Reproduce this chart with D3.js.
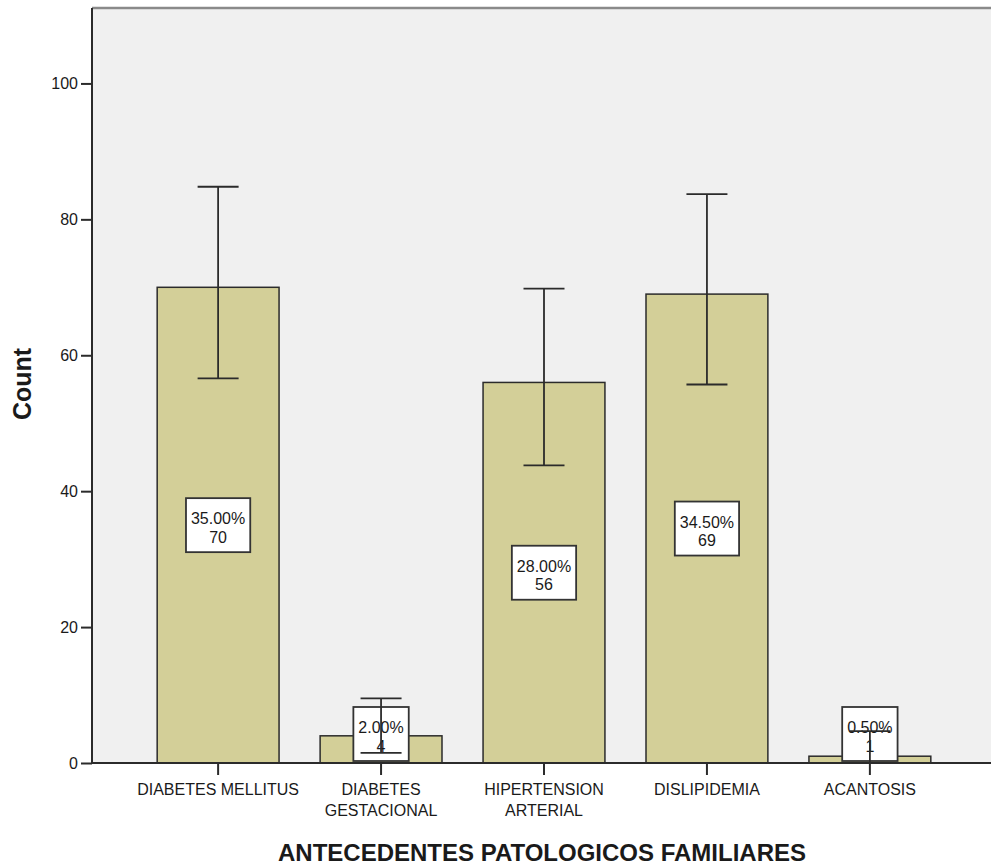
<!DOCTYPE html>
<html>
<head>
<meta charset="utf-8">
<script src="https://cdn.jsdelivr.net/npm/d3@7"></script>
<style>
  body { margin: 0; background: #fff; }
  text { font-family: "Liberation Sans", Arial, sans-serif; fill: #1a1a1a; }
</style>
</head>
<body>
<div id="graf"></div>
<script>
// datos
const categorias = ['DIABETES MELLITUS', 'DIABETES GESTACIONAL', 'HIPERTENSION ARTERIAL', 'DISLIPIDEMIA', 'ACANTOSIS']
const etiquetasX = [['DIABETES MELLITUS'], ['DIABETES', 'GESTACIONAL'], ['HIPERTENSION', 'ARTERIAL'], ['DISLIPIDEMIA'], ['ACANTOSIS']]
const conteos = [70, 4, 56, 69, 1]
const porcentajes = ['35.00%', '2.00%', '28.00%', '34.50%', '0.50%']
const ciBajo = [56.6, 1.5, 43.8, 55.7, 0]
const ciAlto = [84.8, 9.5, 69.8, 83.7, 4.7]
const ticksY = [0, 20, 40, 60, 80, 100]

const anchoTotal = 991
const altoTotal = 867

const svg = d3.select('#graf')
  .append('svg')
  .attr('width', anchoTotal)
  .attr('height', altoTotal)

const datos = categorias.map((c, i) => ({
  cat: c,
  lineas: etiquetasX[i],
  n: conteos[i],
  pct: porcentajes[i],
  lo: ciBajo[i],
  hi: ciAlto[i],
}))

const x = d3.scaleBand()
  .domain(categorias)
  .range([92, 996])
  .paddingInner(0.252)
  .paddingOuter(0.4)

const y = d3.scaleLinear()
  .domain([0, 111.1])
  .range([763, 8])

const centro = d => x(d.cat) + x.bandwidth() / 2

// fondo del area
svg.append('rect')
  .attr('x', 92)
  .attr('y', y(111.1))
  .attr('width', 996 - 92)
  .attr('height', y(0) - y(111.1))
  .attr('fill', '#f0f0f0')

svg.append('line')
  .attr('x1', 92).attr('x2', 996)
  .attr('y1', y(111.1)).attr('y2', y(111.1))
  .attr('stroke', '#8a8a8a')
  .attr('stroke-width', 2.5)

// barras
svg.selectAll('rect.barra')
  .data(datos)
  .enter()
  .append('rect')
  .attr('class', 'barra')
  .attr('x', d => x(d.cat))
  .attr('y', d => y(d.n))
  .attr('width', x.bandwidth())
  .attr('height', d => y(0) - y(d.n))
  .attr('fill', '#d3cf98')
  .attr('stroke', '#2b2b2b')
  .attr('stroke-width', 1.5)

// ejes
const yAxisGroup = svg.append('g')
  .attr('transform', 'translate(92, 0)')
  .call(d3.axisLeft(y).tickValues(ticksY).tickSize(11).tickPadding(3))

const xAxisGroup = svg.append('g')
  .attr('transform', `translate(0, ${y(0)})`)
  .call(d3.axisBottom(x).tickSize(12).tickFormat(''))

yAxisGroup.select('.domain').attr('d', `M0,${y(0)}V${y(111.1)}`)
xAxisGroup.select('.domain').attr('d', 'M92,0H996')

svg.selectAll('.domain, .tick line')
  .attr('stroke', '#2b2b2b')
  .attr('stroke-width', 2)

yAxisGroup.selectAll('text')
  .attr('font-size', 16)
  .attr('fill', '#1a1a1a')
  .attr('font-family', '"Liberation Sans", Arial, sans-serif')

// etiquetas del eje x en una o dos lineas
const etq = svg.append('g')
  .selectAll('text')
  .data(datos)
  .enter()
  .append('text')
  .attr('text-anchor', 'middle')
  .attr('font-size', 16)

etq.selectAll('tspan')
  .data(d => d.lineas.map(l => ({ l, cx: centro(d) })))
  .enter()
  .append('tspan')
  .attr('x', d => d.cx)
  .attr('y', (d, i) => 795 + i * 21)
  .text(d => d.l)

// cajas con porcentaje y conteo
const cajas = svg.append('g')
  .selectAll('g')
  .data(datos)
  .enter()
  .append('g')

cajas.each(function (d) {
  const g = d3.select(this)
  const cx = centro(d)
  const h = 54
  let top = y(d.n / 2) - h / 2
  if (top + h > y(0) - 2) top = y(0) - 2 - h
  const t = g.append('text')
    .attr('font-size', 16)
    .attr('text-anchor', 'middle')
  const l1 = t.append('tspan').attr('x', cx).attr('y', top + 26).text(d.pct)
  t.append('tspan').attr('x', cx).attr('y', top + 44.5).text(d.n)
  const w = l1.node().getComputedTextLength() + 10
  g.insert('rect', 'text')
    .attr('x', cx - w / 2)
    .attr('y', top)
    .attr('width', w)
    .attr('height', h)
    .attr('fill', '#fff')
    .attr('stroke', '#333')
    .attr('stroke-width', 1.8)
})

// barras de error
const err = svg.append('g')
  .selectAll('g')
  .data(datos)
  .enter()
  .append('g')
  .attr('stroke', '#2b2b2b')
  .attr('stroke-width', 1.8)

err.append('line')
  .attr('x1', centro)
  .attr('x2', centro)
  .attr('y1', d => y(d.hi))
  .attr('y2', d => y(d.lo))

err.append('line')
  .attr('x1', d => centro(d) - 20.5)
  .attr('x2', d => centro(d) + 20.5)
  .attr('y1', d => y(d.hi))
  .attr('y2', d => y(d.hi))

err.append('line')
  .attr('x1', d => centro(d) - 20.5)
  .attr('x2', d => centro(d) + 20.5)
  .attr('y1', d => y(d.lo))
  .attr('y2', d => y(d.lo))

// titulos
svg.append('text')
  .attr('transform', 'translate(31, 384) rotate(-90)')
  .attr('text-anchor', 'middle')
  .attr('font-size', 25)
  .attr('font-weight', 'bold')
  .attr('fill', '#000')
  .text('Count')

svg.append('text')
  .attr('x', 542)
  .attr('y', 861)
  .attr('text-anchor', 'middle')
  .attr('font-size', 24)
  .attr('font-weight', 'bold')
  .attr('fill', '#000')
  .text('ANTECEDENTES PATOLOGICOS FAMILIARES')
</script>
</body>
</html>
